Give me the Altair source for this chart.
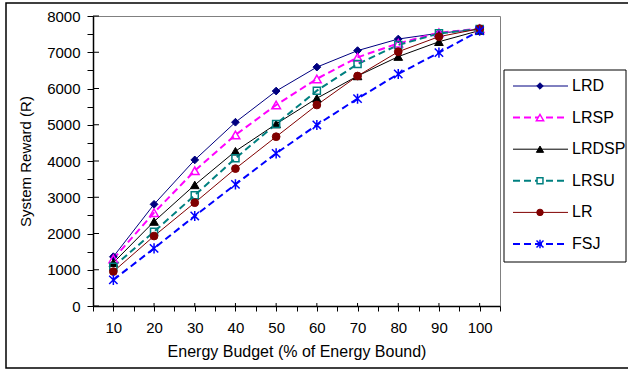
import altair as alt
import pandas as pd

# ---------------- data ----------------
budget = [10, 20, 30, 40, 50, 60, 70, 80, 90, 100]
series_names = ["LRD", "LRSP", "LRDSP", "LRSU", "LR", "FSJ"]
lrd = [1360, 2805, 4030, 5070, 5930, 6590, 7045, 7365, 7525, 7635]
lrsp = [1300, 2575, 3730, 4720, 5545, 6265, 6860, 7245, 7540, 7650]
lrdsp = [1195, 2330, 3340, 4270, 5020, 5730, 6345, 6880, 7290, 7600]
lrsu = [1085, 2050, 3055, 4075, 5020, 5940, 6675, 7200, 7520, 7640]
lr = [950, 1930, 2850, 3790, 4670, 5545, 6345, 7015, 7430, 7650]
fsj = [720, 1590, 2485, 3355, 4210, 4995, 5720, 6400, 6990, 7595]
y_major_ticks = [0, 1000, 2000, 3000, 4000, 5000, 6000, 7000, 8000]
x_major_ticks = budget

values = {"LRD": lrd, "LRSP": lrsp, "LRDSP": lrdsp, "LRSU": lrsu, "LR": lr, "FSJ": fsj}

# ---------------- styles ----------------
ASTER = "M-1,-1L1,1M-1,1L1,-1M0,-1.2L0,1.2"
styles = {
    "LRD":   dict(color="#000080", dash=None,  width=1.0, shape="diamond",     filled=True,  size=60),
    "LRSP":  dict(color="#FF00FF", dash=[7, 4], width=2.0, shape="triangle-up", filled=False, size=75),
    "LRDSP": dict(color="#000000", dash=None,  width=1.0, shape="triangle-up", filled=True,  size=75),
    "LRSU":  dict(color="#008080", dash=[7, 4], width=2.0, shape="square",      filled=False, size=50),
    "LR":    dict(color="#800000", dash=None,  width=1.0, shape="circle",      filled=True,  size=60),
    "FSJ":   dict(color="#0000FF", dash=[7, 4], width=2.0, shape=ASTER,         filled=False, size=70),
}

FONT = "Liberation Sans"
W, H = 407, 290

rows = []
for s in series_names:
    for b, v in zip(budget, values[s]):
        rows.append({"budget": b, "value": v, "series": s})
df = pd.DataFrame(rows)

xscale = alt.Scale(domain=[5, 105], nice=False, zero=False)
yscale = alt.Scale(domain=[0, 8000], nice=False)
xaxis = alt.Axis(
    values=list(range(5, 106, 5)),
    labelExpr="datum.value % 10 == 0 ? datum.label : ''",
    format="d", tickSize=5, tickColor="black", tickWidth=1,
    domainColor="black", domainWidth=1.5, grid=False,
    labelFontSize=15, labelPadding=9, labelOverlap=False, labelFlush=False,
    title="Energy Budget (% of Energy Bound)", titleFontSize=16,
    titleFontWeight="normal", titlePadding=8,
)
yaxis = alt.Axis(
    values=list(range(0, 8001, 500)),
    labelExpr="datum.value % 1000 == 0 ? datum.label : ''",
    format="d", tickSize=6, tickColor="black", tickWidth=1,
    domainColor="black", domainWidth=1.5, grid=False,
    labelFontSize=15, labelPadding=7, labelOverlap=False, labelFlush=False,
    title="System Reward (R)", titleFontSize=15,
    titleFontWeight="normal", titlePadding=13,
)
X = alt.X("budget:Q", scale=xscale, axis=xaxis)
Y = alt.Y("value:Q", scale=yscale, axis=yaxis)

main_layers = []
# inward parts of the major ticks
ytick_df = pd.DataFrame({"value": y_major_ticks})
main_layers.append(
    alt.Chart(ytick_df).mark_rule(color="black", strokeWidth=1).encode(
        y=Y, x=alt.value(0), x2=alt.value(6))
)
xtick_df = pd.DataFrame({"budget": x_major_ticks})
main_layers.append(
    alt.Chart(xtick_df).mark_rule(color="black", strokeWidth=1).encode(
        x=X, y=alt.value(H - 3), y2=alt.value(H))
)

for s in series_names:
    st = styles[s]
    base = alt.Chart(df[df.series == s])
    lkw = dict(color=st["color"], strokeWidth=st["width"])
    if st["dash"]:
        lkw["strokeDash"] = st["dash"]
    main_layers.append(base.mark_line(**lkw).encode(x=X, y=Y))
for s in series_names:
    st = styles[s]
    base = alt.Chart(df[df.series == s])
    if st["filled"]:
        pm = base.mark_point(shape=st["shape"], filled=True, fill=st["color"],
                             stroke=st["color"], strokeWidth=1, size=st["size"], opacity=1)
    else:
        pm = base.mark_point(shape=st["shape"], filled=False, stroke=st["color"],
                             strokeWidth=1.5, size=st["size"], opacity=1)
    main_layers.append(pm.encode(x=X, y=Y))

main = alt.layer(*main_layers)

# ---------------- legend ----------------
leg_df = pd.DataFrame({"series": series_names})
LY = alt.Y("series:N", scale=alt.Scale(type="point", domain=series_names, range=[70, 228], padding=0), axis=None)

legend_layers = [
    alt.Chart(pd.DataFrame({"a": [0]})).mark_rect(fill="white", stroke="black", strokeWidth=1).encode(
        x=alt.value(411), x2=alt.value(533), y=alt.value(54), y2=alt.value(246))
]
for s in series_names:
    st = styles[s]
    base = alt.Chart(leg_df[leg_df.series == s])
    rkw = dict(color=st["color"], strokeWidth=st["width"])
    if st["dash"]:
        rkw["strokeDash"] = st["dash"]
    legend_layers.append(base.mark_rule(**rkw).encode(y=LY, x=alt.value(420), x2=alt.value(475)))
    if st["filled"]:
        pm = base.mark_point(shape=st["shape"], filled=True, fill=st["color"],
                             stroke=st["color"], strokeWidth=1, size=st["size"] * 0.7, opacity=1)
    else:
        pm = base.mark_point(shape=st["shape"], filled=True, fill="white", stroke=st["color"],
                             strokeWidth=1.5, size=st["size"] * 0.7, opacity=1)
    legend_layers.append(pm.encode(y=LY, x=alt.value(447)))
    legend_layers.append(base.mark_text(align="left", baseline="middle", font=FONT, fontSize=16,
                                        color="black").encode(y=LY, x=alt.value(479), text="series:N"))

legend = alt.layer(*legend_layers)

frame = alt.Chart(pd.DataFrame({"a": [0]})).mark_rect(
    fill="white", fillOpacity=0, stroke="black", strokeWidth=1.5).encode(
    x=alt.value(-87), x2=alt.value(537), y=alt.value(-13), y2=alt.value(352))

chart = alt.layer(main, legend, frame).resolve_scale(y="independent").properties(
    width=W, height=H,
    autosize=alt.AutoSizeParams(type="none"),
    padding={"left": 93, "top": 16, "right": 128, "bottom": 65},
).configure_view(stroke="#808080", strokeWidth=1).configure_axis(
    labelFont=FONT, titleFont=FONT, labelColor="black", titleColor="black"
)

chart.save("out.html", embed_options={"renderer": "svg", "actions": False})
